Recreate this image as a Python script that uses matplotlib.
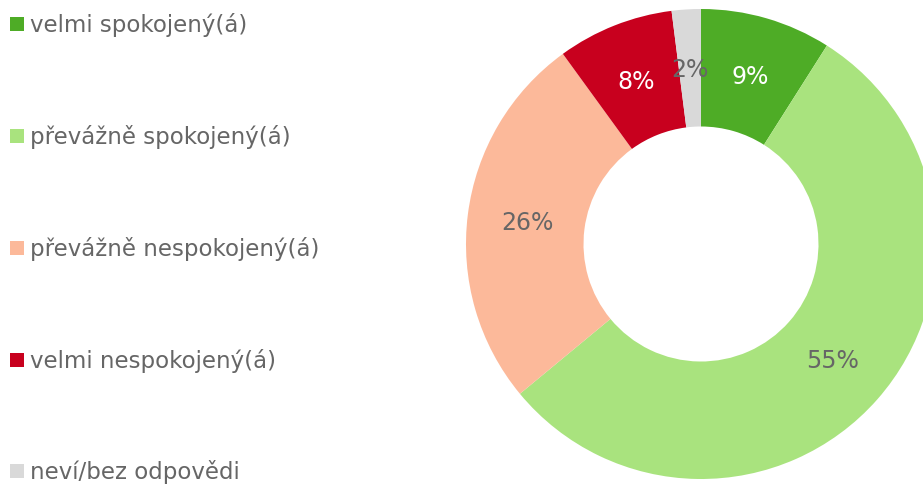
import matplotlib.pyplot as plt
from matplotlib.patches import Rectangle

labels = ['velmi spokojený(á)', 'převážně spokojený(á)', 'převážně nespokojený(á)',
          'velmi nespokojený(á)', 'neví/bez odpovědi']
values = [9, 55, 26, 8, 2]
colors = ['#4EAC26', '#A9E37E', '#FCB99A', '#C8001E', '#D9D9D9']
pct_colors = ['white', '#666666', '#666666', 'white', '#666666']

W, H = 923, 485
fig = plt.figure(figsize=(W / 100, H / 100), dpi=100)

# donut: center (701, 245) px, outer radius 235 px
cx, cy, r = 701, 245, 235
ax = fig.add_axes([(cx - r) / W, (H - cy - r) / H, 2 * r / W, 2 * r / H])
wedges, texts, autotexts = ax.pie(values, colors=colors, startangle=90, counterclock=False,
                                  radius=1, wedgeprops=dict(width=0.5, linewidth=0),
                                  autopct='%d%%', pctdistance=0.745,
                                  textprops=dict(fontsize=17, family='DejaVu Sans'))
for t, c in zip(autotexts, pct_colors):
    t.set_color(c)
ax.set_xlim(-1, 1)
ax.set_ylim(-1, 1)
ax.set_aspect('equal')
ax.axis('off')

# legend drawn by hand
ys = [25, 137, 249, 361, 472]
for lab, col, y in zip(labels, colors, ys):
    fig.patches.append(Rectangle((10 / W, (H - y - 7) / H), 14 / W, 14 / H,
                                 transform=fig.transFigure, color=col, linewidth=0))
    fig.text(30 / W, (H - y) / H, lab, fontsize=16.5, color='#666666',
             va='center', ha='left', family='DejaVu Sans')

fig.savefig('out.png', dpi=100)
